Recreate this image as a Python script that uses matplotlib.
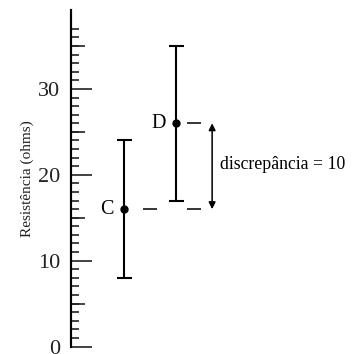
import matplotlib

matplotlib.use("Agg")

import matplotlib.pyplot as plt
from matplotlib.ticker import FixedLocator

# data
labels = ["C", "D"]
x_pos = [1, 2]
means = [16, 26]
errors = [8, 9]
discrepancy = means[1] - means[0]

major_ticks = [0, 10, 20, 30]
mid_ticks = [5, 15, 25, 35]
minor_ticks = list(range(0, 38))

plt.rcParams["font.family"] = ["Liberation Serif", "DejaVu Serif"]

fig = plt.figure(figsize=(3.54, 3.54), dpi=100)
ax = fig.add_axes([70.5 / 354, 7.5 / 354, 1 - 70.5 / 354, 336.5 / 354])

ax.set_ylim(0, 39.2)
ax.set_xlim(1 - 54 / 52, 1 + 230 / 52)

for side in ("top", "right", "bottom"):
    ax.spines[side].set_visible(False)
ax.spines["left"].set_linewidth(1.5)
ax.set_xticks([])

ax.yaxis.set_major_locator(FixedLocator(major_ticks))
ax.yaxis.set_minor_locator(FixedLocator(minor_ticks))
ax.tick_params(axis="y", which="major", direction="in", length=15, width=1.2,
               labelsize=16, pad=7.5, colors="#222222")
ax.tick_params(axis="y", which="minor", direction="in", length=5.4, width=1.2,
               colors="#222222")

sec = ax.secondary_yaxis("left")
sec.set_yticks(mid_ticks)
sec.tick_params(direction="in", length=10, width=1.2, labelleft=False, colors="#222222")
sec.spines["left"].set_linewidth(1.5)

ax.set_ylabel("Resistência (ohms)", fontsize=11, labelpad=3, color="#222222")

ax.errorbar(x_pos, means, yerr=errors, fmt="o", color="black", ms=5,
            elinewidth=1.5, capsize=5.4, capthick=1.5)

for x, m, lab in zip(x_pos, means, labels):
    ax.annotate(lab, (x, m), xytext=(-7.5, 0), textcoords="offset points",
                ha="right", va="center", fontsize=14.5)

# dashed guide marks
ax.hlines(means[0], x_pos[0] + 0.35, x_pos[0] + 0.62, color="black", lw=1.1)
ax.hlines(means[0], x_pos[1] + 0.21, x_pos[1] + 0.48, color="black", lw=1.1)
ax.hlines(means[1], x_pos[1] + 0.21, x_pos[1] + 0.48, color="black", lw=1.1)

ax.annotate("", xy=(2.69, means[1]), xytext=(2.69, means[0]),
            arrowprops=dict(arrowstyle="<|-|>", color="black", lw=1.1,
                            mutation_scale=10, shrinkA=0, shrinkB=0))
ax.text(2.85, (means[0] + means[1]) / 2 + 0.15, f"discrepância = {discrepancy}",
        fontsize=12.8, va="center", ha="left")

fig.savefig("out.png", dpi=100)
